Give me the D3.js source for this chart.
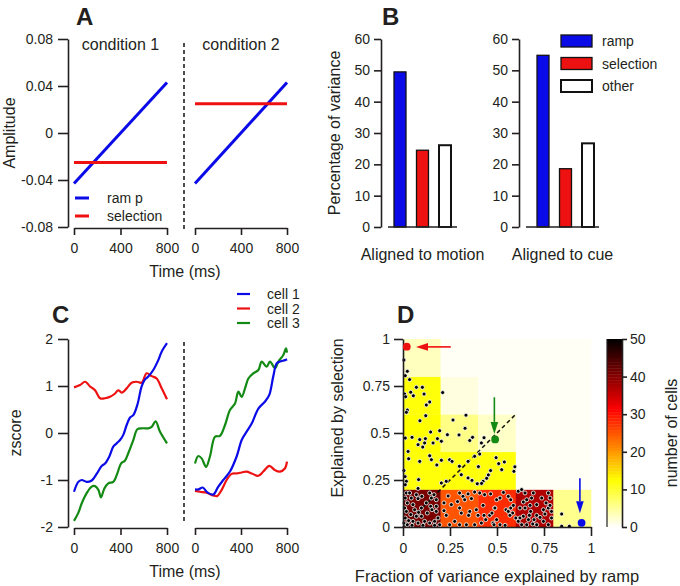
<!DOCTYPE html>
<html><head><meta charset="utf-8">
<script src="https://cdn.jsdelivr.net/npm/d3@7"></script>
<style>body{margin:0;background:#fff}</style>
</head><body><svg id="c" width="680" height="586" xmlns="http://www.w3.org/2000/svg"></svg>
<script>
// ---------------- data ----------------
const timeTicks=[0,400,800];
const ampTicks=[0.08,0.04,0,-0.04,-0.08];
const conditions=["condition 1","condition 2"];
const rampA=[[0,-0.043],[800,0.043]];
const selectionA=[-0.025,0.025];

const components=["ramp","selection","other"];
const alignments=["Aligned to motion","Aligned to cue"];
const varMotion=[49.5,24.5,26.1];
const varCue=[54.8,18.6,26.7];
const pctTicks=[0,10,20,30,40,50,60];

const zTicks=[2,1,0,-1,-2];
const cellNames=["cell 1","cell 2","cell 3"];
const cell1=[
 [[0,-1.25],[37,-1.04],[66,-1.0],[109,-1.04],[152,-1.01],[195,-0.87],[238,-0.70],[267,-0.65],[304,-0.50],[338,-0.29],[367,-0.22],[396,-0.15],[424,-0.04],[453,0.17],[482,0.33],[510,0.38],[545,0.6],[582,0.99],[611,1.14],[639,1.2],[682,1.34],[725,1.55],[754,1.73],[800,1.91]],
 [[0,-1.2],[30,-1.2],[67,-1.16],[110,-1.27],[159,-1.31],[200,-1.15],[246,-1.0],[304,-0.82],[362,-0.5],[406,-0.15],[449,0.03],[493,0.2],[551,0.52],[609,0.67],[646,0.81],[681,1.21],[710,1.48],[739,1.52],[783,1.55],[800,1.57]]];
const cell2=[
 [[0,0.97],[52,1.02],[95,1.09],[138,0.99],[181,0.91],[224,0.74],[267,0.74],[310,0.77],[353,0.84],[381,0.91],[410,0.86],[453,0.95],[496,1.07],[539,1.09],[582,1.07],[625,1.27],[668,1.21],[711,1.16],[754,0.95],[800,0.72]],
 [[0,-1.23],[43,-1.25],[101,-1.27],[159,-1.33],[194,-1.34],[232,-1.21],[275,-1.0],[319,-0.87],[362,-0.86],[406,-0.84],[449,-0.82],[493,-0.86],[551,-0.91],[594,-0.82],[646,-0.70],[696,-0.79],[739,-0.82],[783,-0.75],[800,-0.61]]];
const cell3=[
 [[0,-1.87],[37,-1.70],[66,-1.50],[109,-1.28],[152,-1.14],[181,-1.13],[210,-1.21],[232,-1.37],[261,-1.18],[295,-1.07],[338,-1.04],[373,-0.86],[404,-0.65],[438,-0.59],[467,-0.43],[510,-0.15],[545,0.08],[582,0.1],[611,0.1],[639,0.1],[668,0.13],[702,0.25],[739,0.03],[800,-0.22]],
 [[0,-0.65],[29,-0.49],[58,-0.54],[96,-0.72],[130,-0.50],[174,-0.08],[217,-0.06],[261,0.17],[304,0.49],[348,0.63],[377,0.88],[406,0.77],[435,0.95],[464,1.16],[507,1.27],[551,1.34],[580,1.52],[623,1.41],[652,1.52],[696,1.38],[725,1.52],[768,1.66],[791,1.8],[800,1.71]]];

const fracTicks=[0,0.25,0.5,0.75,1];
const binEdges=[0,0.2,0.4,0.6,0.8,1];
// rows: selection bins from bottom; columns: ramp bins
const cellCounts=[
 [41,25,28,37,5.6],
 [12,12,12,0.5,0.5],
 [12.5,6,2.7,0.5,0.5],
 [12,1.5,0.5,0.5,0.5],
 [3.2,0.5,0.5,0.5,0.5]];
const countTicks=[0,10,20,30,40,50];
const cellPoints=[
[0.005,0.888],[0.023,0.828],[0.012,0.805],
[0.035,0.784],[0.009,0.707],[0.014,0.693],[0.041,0.717],[0.055,0.698],[0.071,0.743],[0.103,0.743],[0.112,0.707],[0.124,0.649],[0.142,0.665],[0.023,0.622],[0.018,0.61],[0.211,0.715],
[0.121,0.592],[0.09,0.565],[0.012,0.473],[0.048,0.477],[0.089,0.465],[0.119,0.47],[0.147,0.505],[0.195,0.512],[0.115,0.447],[0.16,0.447],[0.08,0.438],[0.027,0.402],[0.183,0.47],[0.105,0.425],
[0.266,0.569],[0.335,0.595],[0.33,0.525],[0.236,0.491],[0.298,0.49],[0.355,0.46],[0.37,0.477],[0.204,0.456],
[0.417,0.447],[0.431,0.475],
[0.03,0.363],[0.089,0.349],[0.142,0.379],[0.151,0.358],[0.018,0.243],[0.012,0.225],[0.083,0.252],[0.08,0.205],[0.011,0.268],[0.005,0.3],[0.18,0.33],
[0.204,0.355],[0.248,0.358],[0.261,0.349],[0.346,0.349],[0.3,0.323],[0.381,0.376],[0.31,0.278],[0.346,0.261],[0.367,0.248],[0.395,0.23],[0.204,0.234],[0.23,0.243],
[0.408,0.388],[0.426,0.243],[0.466,0.3],[0.495,0.369],[0.509,0.337],[0.539,0.346],[0.595,0.32],[0.59,0.296],[0.525,0.305],[0.454,0.277],[0.445,0.259],[0.418,0.232],[0.401,0.321],
[0.018,0.181],[0.012,0.154],[0.023,0.128],[0.053,0.119],[0.08,0.151],[0.1,0.163],[0.142,0.181],[0.151,0.154],[0.165,0.172],[0.177,0.145],[0.147,0.11],[0.154,0.092],[0.083,0.078],[0.071,0.057],[0.098,0.057],[0.041,0.066],[0.018,0.083],[0.012,0.048],[0.03,0.034],[0.053,0.03],[0.08,0.021],[0.115,0.03],[0.142,0.021],[0.168,0.03],[0.186,0.048],[0.195,0.012],[0.168,0.009],[0.023,0.012],[0.048,0.009],[0.106,0.009],[0.129,0.074],[0.062,0.092],[0.177,0.083],[0.044,0.154],[0.124,0.128],[0.098,0.101],[0.009,0.101],[0.177,0.11],[0.071,0.172],[0.035,0.181],[0.005,0.021],
[0.301,0.181],[0.319,0.163],[0.346,0.176],[0.381,0.186],[0.218,0.087],[0.23,0.062],[0.301,0.101],[0.31,0.074],[0.355,0.083],[0.349,0.062],[0.39,0.092],[0.399,0.062],[0.248,0.012],[0.301,0.012],[0.337,0.012],[0.381,0.012],[0.275,0.03],[0.218,0.128],[0.257,0.119],[0.328,0.145],[0.364,0.151],[0.24,0.165],[0.29,0.135],
[0.408,0.181],[0.434,0.172],[0.466,0.176],[0.426,0.115],[0.488,0.101],[0.479,0.021],[0.431,0.062],[0.44,0.039],[0.461,0.062],[0.473,0.074],[0.417,0.021],
[0.534,0.184],[0.56,0.163],[0.573,0.145],[0.498,0.145],[0.516,0.154],[0.489,0.101],[0.548,0.092],[0.56,0.083],[0.573,0.101],[0.583,0.074],[0.569,0.062],[0.6,0.048],[0.498,0.039],[0.516,0.012],[0.543,0.009],[0.484,0.012],[0.587,0.115],
[0.613,0.19],[0.631,0.199],[0.649,0.181],[0.693,0.181],[0.773,0.181],[0.782,0.154],[0.64,0.133],[0.622,0.101],[0.649,0.101],[0.676,0.115],[0.679,0.083],[0.64,0.057],[0.622,0.048],[0.672,0.062],[0.711,0.062],[0.729,0.051],[0.755,0.069],[0.773,0.101],[0.761,0.128],[0.782,0.115],[0.79,0.083],[0.747,0.03],[0.773,0.012],[0.711,0.012],[0.69,0.016],[0.658,0.012],[0.631,0.012],[0.613,0.03],[0.738,0.154],[0.711,0.119],[0.684,0.154],[0.658,0.145],[0.747,0.092],[0.697,0.039],[0.79,0.048],[0.667,0.039],
[0.844,0.069],[0.844,0.004],[0.885,0.004]];
const exampleRamp=[0.95,0.02,0.49];
const exampleSel=[0.022,0.959,0.466];
const exampleArrows=[[[0.941,0.259],[0.941,0.073]],[[0.254,0.958],[0.069,0.958]],[[0.486,0.69],[0.486,0.495]]];
const diagonal=[[0,0],[0.6,0.6]];

// ---------------- drawing ----------------
const FONT='"Liberation Sans", Arial, Helvetica, sans-serif';
const INK="#231f20";
const BLUE="#0b0be8", RED="#ee1111", GREEN="#138a13";
const cellColors=[BLUE,RED,GREEN];
const compColors=[BLUE,RED,"#ffffff"];
const svg=d3.select("#c");

function styleAxis(g,fs){
  g.attr("font-family",FONT).attr("font-size",fs);
  g.selectAll(".domain").attr("stroke",INK).attr("stroke-width",1.6);
  g.selectAll(".tick line").attr("stroke",INK).attr("stroke-width",1.6);
  g.selectAll(".tick text").attr("fill",INK);
  return g;
}
function text(x,y,s,o={}){
  const t=svg.append("text").attr("x",x).attr("y",y).text(s)
    .attr("font-family",FONT).attr("font-size",o.fs||16).attr("fill",o.fill||INK)
    .attr("text-anchor",o.anchor||"start");
  if(o.bold) t.attr("font-weight","bold");
  return t;
}
function vtext(x,y,s,fs){
  svg.append("text").attr("transform",`translate(${x},${y}) rotate(-90)`).text(s)
    .attr("font-family",FONT).attr("font-size",fs||16).attr("fill",INK).attr("text-anchor","middle");
}
const fmtNum=d=>String(d);

// ===== Panel A =====
const xT=[d3.scaleLinear([0,800],[74,167]),d3.scaleLinear([0,800],[195,287])];
const yA=d3.scaleLinear([-0.08,0.08],[227,39]);
styleAxis(svg.append("g").attr("transform","translate(68,0)")
  .call(d3.axisLeft(yA).tickValues(ampTicks).tickSize(10).tickPadding(5).tickSizeOuter(0)
  .tickFormat(d=>d===0?"0":d.toFixed(2))),14);
xT.forEach((x,i)=>{
  styleAxis(svg.append("g").attr("transform","translate(0,228)")
    .call(d3.axisBottom(x).tickValues(timeTicks).tickSize(7).tickPadding(8).tickSizeOuter(0).tickFormat(fmtNum)),14);
  const line=d3.line().x(d=>x(d[0])).y(d=>yA(d[1]));
  svg.append("path").attr("d",line(rampA)).attr("fill","none").attr("stroke",BLUE).attr("stroke-width",3);
  svg.append("path").attr("d",line([[0,selectionA[i]],[800,selectionA[i]]])).attr("fill","none").attr("stroke",RED).attr("stroke-width",3);
  text((x.range()[0]+x.range()[1])/2,50,conditions[i],{anchor:"middle",fs:16});
});
svg.append("line").attr("x1",184).attr("x2",184).attr("y1",43).attr("y2",231)
  .attr("stroke",INK).attr("stroke-width",1.6).attr("stroke-dasharray","4,3");
[["ram p",BLUE],["selection",RED]].forEach((d,i)=>{
  const y=198+i*18;
  svg.append("line").attr("x1",75).attr("x2",89).attr("y1",y).attr("y2",y).attr("stroke",d[1]).attr("stroke-width",3);
  text(107,y+5,d[0],{fs:14});
});
vtext(15,133,"Amplitude",16);
text(185,277,"Time (ms)",{anchor:"middle",fs:16});
text(76,25,"A",{fs:24,bold:true});

// ===== Panel B =====
const yB=d3.scaleLinear([0,60],[227,39]);
const groups=[{vals:varMotion,ax:381,line:[388,457],band:[388,457]},{vals:varCue,ax:519,line:[526,599],band:[531,600]}];
groups.forEach((g,gi)=>{
  const xb=d3.scaleBand().domain(components).range(g.band).paddingInner(0.467).paddingOuter(0.267);
  svg.append("g").selectAll("rect").data(g.vals).join("rect")
    .attr("x",(d,i)=>xb(components[i])).attr("width",xb.bandwidth())
    .attr("y",d=>yB(d)).attr("height",d=>yB(0)-yB(d))
    .attr("fill",(d,i)=>compColors[i]).attr("stroke","#111").attr("stroke-width",(d,i)=>i===2?2:1.3);
  styleAxis(svg.append("g").attr("transform",`translate(${g.ax},0)`)
    .call(d3.axisLeft(yB).tickValues(pctTicks).tickSize(7).tickPadding(4).tickSizeOuter(0).tickFormat(fmtNum)),14);
  svg.append("line").attr("x1",g.line[0]).attr("x2",g.line[1]).attr("y1",yB(0)).attr("y2",yB(0)).attr("stroke",INK).attr("stroke-width",1.6);
  text((g.line[0]+g.line[1])/2,260,alignments[gi],{anchor:"middle",fs:16});
});
components.forEach((c,i)=>{
  const y=35+i*22.5;
  svg.append("rect").attr("x",561).attr("y",y).attr("width",31).attr("height",12)
    .attr("fill",compColors[i]).attr("stroke","#111").attr("stroke-width",i===2?2:1.3);
  text(602,y+11,c,{fs:14});
});
vtext(340,133,"Percentage of variance",16);
text(382,25,"B",{fs:24,bold:true});

// ===== Panel C =====
const yC=d3.scaleLinear([-2,2],[527,339]);
styleAxis(svg.append("g").attr("transform","translate(68,0)")
  .call(d3.axisLeft(yC).tickValues(zTicks).tickSize(10).tickPadding(5).tickSizeOuter(0).tickFormat(fmtNum)),14);
const series=[cell1,cell2,cell3];
xT.forEach((x,i)=>{
  styleAxis(svg.append("g").attr("transform","translate(0,528)")
    .call(d3.axisBottom(x).tickValues(timeTicks).tickSize(7).tickPadding(8).tickSizeOuter(0).tickFormat(fmtNum)),14);
  const line=d3.line().x(d=>x(d[0])).y(d=>yC(d[1])).curve(d3.curveCatmullRom.alpha(0.5));
  [2,1,0].forEach(k=>{
    svg.append("path").attr("d",line(series[k][i])).attr("fill","none").attr("stroke",cellColors[k]).attr("stroke-width",2.2);
  });
});
svg.append("line").attr("x1",184).attr("x2",184).attr("y1",342).attr("y2",521)
  .attr("stroke",INK).attr("stroke-width",1.6).attr("stroke-dasharray","4,3");
cellNames.forEach((n,i)=>{
  const y=294+i*14.5;
  svg.append("line").attr("x1",237).attr("x2",250).attr("y1",y).attr("y2",y).attr("stroke",cellColors[i]).attr("stroke-width",2.2);
  text(267,y+5,n,{fs:14});
});
vtext(21,433,"zscore",16);
text(185,577,"Time (ms)",{anchor:"middle",fs:16});
text(52,323,"C",{fs:24,bold:true});

// ===== Panel D =====
const xD=d3.scaleLinear([0,1],[403,591]);
const yD=d3.scaleLinear([0,1],[527,339]);
const cmap=d3.scaleLinear().domain([0,12.5,31.25,50]).range(["#ffffff","#ffff00","#ff0000","#000000"]).clamp(true);
const cells=[];
cellCounts.forEach((row,r)=>row.forEach((v,c)=>cells.push({r,c,v})));
svg.append("g").selectAll("rect").data(cells).join("rect")
  .attr("x",d=>xD(binEdges[d.c])).attr("width",d=>xD(binEdges[d.c+1])-xD(binEdges[d.c])+0.3)
  .attr("y",d=>yD(binEdges[d.r+1])).attr("height",d=>yD(binEdges[d.r])-yD(binEdges[d.r+1])+0.3)
  .attr("fill",d=>cmap(d.v));
svg.append("path").attr("d",d3.line().x(d=>xD(d[0])).y(d=>yD(d[1]))(diagonal))
  .attr("stroke","#111").attr("stroke-width",1.5).attr("stroke-dasharray","4,3").attr("fill","none");
svg.append("g").selectAll("circle").data(cellPoints).join("circle")
  .attr("cx",d=>xD(d[0])).attr("cy",d=>yD(d[1])).attr("r",2)
  .attr("fill","#000").attr("stroke","#fff").attr("stroke-width",0.8);
styleAxis(svg.append("g").attr("transform","translate(0,527)")
  .call(d3.axisBottom(xD).tickValues(fracTicks).tickSize(9).tickPadding(7).tickSizeOuter(0).tickFormat(fmtNum)),14);
styleAxis(svg.append("g").attr("transform","translate(403,0)")
  .call(d3.axisLeft(yD).tickValues(fracTicks).tickSize(9).tickPadding(4).tickSizeOuter(0).tickFormat(fmtNum)),14);
// example cells with arrows
exampleRamp.forEach((rx,i)=>{
  const col=cellColors[i];
  const a=exampleArrows[i];
  const x1=xD(a[0][0]),y1=yD(a[0][1]),x2=xD(a[1][0]),y2=yD(a[1][1]);
  const ang=Math.atan2(y2-y1,x2-x1), L=12, W=3.8;
  const bx=x2-L*Math.cos(ang), by=y2-L*Math.sin(ang);
  svg.append("line").attr("x1",x1).attr("y1",y1).attr("x2",bx).attr("y2",by).attr("stroke",col).attr("stroke-width",1.6);
  const px=-Math.sin(ang)*W, py=Math.cos(ang)*W;
  svg.append("path").attr("d",`M${x2},${y2}L${bx+px},${by+py}L${bx-px},${by-py}Z`).attr("fill",col);
  svg.append("circle").attr("cx",xD(rx)).attr("cy",yD(exampleSel[i])).attr("r",3.9).attr("fill",col);
});
// colorbar
const yCb=d3.scaleLinear([0,50],[527,339]);
const levels=d3.range(64).map(i=>i*50/64);
svg.append("g").selectAll("rect").data(levels).join("rect")
  .attr("x",607).attr("width",15).attr("y",d=>yCb(d+50/64)).attr("height",d=>yCb(d)-yCb(d+50/64)+0.4)
  .attr("fill",d=>cmap(d+25/64));
svg.append("line").attr("x1",607).attr("x2",607).attr("y1",339).attr("y2",527).attr("stroke",INK).attr("stroke-width",1.2);
styleAxis(svg.append("g").attr("transform","translate(622,0)")
  .call(d3.axisRight(yCb).tickValues(countTicks).tickSize(5).tickPadding(3).tickSizeOuter(0).tickFormat(fmtNum)),14);
vtext(343,418,"Explained by selection",16);
vtext(677,433,"number of cells",16);
text(497,582,"Fraction of variance explained by ramp",{anchor:"middle",fs:16.5});
text(397,323,"D",{fs:24,bold:true});
</script></body></html>
